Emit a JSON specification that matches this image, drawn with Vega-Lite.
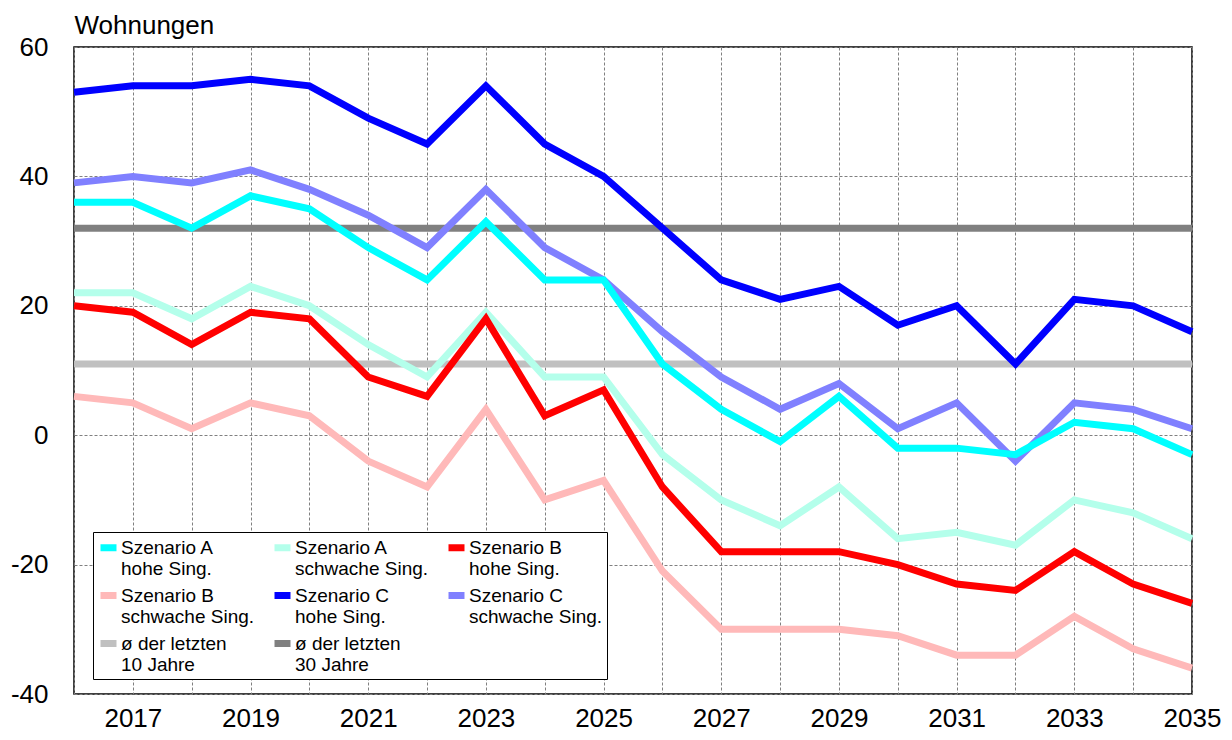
{
  "$schema": "https://vega.github.io/schema/vega-lite/v6.json",
  "autosize": "none",
  "width": 1118,
  "height": 647,
  "padding": {"left": 74, "top": 47, "right": 40, "bottom": 46},
  "background": "white",
  "config": {
    "font": "Liberation Sans",
    "view": {"stroke": "black", "strokeWidth": 1.5}
  },
  "datasets": {
    "series": [
      {"year": 2016, "s": "ø der letzten\n10 Jahre", "v": 11}, {"year": 2035, "s": "ø der letzten\n10 Jahre", "v": 11},
      {"year": 2016, "s": "ø der letzten\n30 Jahre", "v": 32}, {"year": 2035, "s": "ø der letzten\n30 Jahre", "v": 32},

      {"year": 2016, "s": "Szenario B\nschwache Sing.", "v": 6}, {"year": 2017, "s": "Szenario B\nschwache Sing.", "v": 5},
      {"year": 2018, "s": "Szenario B\nschwache Sing.", "v": 1}, {"year": 2019, "s": "Szenario B\nschwache Sing.", "v": 5},
      {"year": 2020, "s": "Szenario B\nschwache Sing.", "v": 3}, {"year": 2021, "s": "Szenario B\nschwache Sing.", "v": -4},
      {"year": 2022, "s": "Szenario B\nschwache Sing.", "v": -8}, {"year": 2023, "s": "Szenario B\nschwache Sing.", "v": 4},
      {"year": 2024, "s": "Szenario B\nschwache Sing.", "v": -10}, {"year": 2025, "s": "Szenario B\nschwache Sing.", "v": -7},
      {"year": 2026, "s": "Szenario B\nschwache Sing.", "v": -21}, {"year": 2027, "s": "Szenario B\nschwache Sing.", "v": -30},
      {"year": 2028, "s": "Szenario B\nschwache Sing.", "v": -30}, {"year": 2029, "s": "Szenario B\nschwache Sing.", "v": -30},
      {"year": 2030, "s": "Szenario B\nschwache Sing.", "v": -31}, {"year": 2031, "s": "Szenario B\nschwache Sing.", "v": -34},
      {"year": 2032, "s": "Szenario B\nschwache Sing.", "v": -34}, {"year": 2033, "s": "Szenario B\nschwache Sing.", "v": -28},
      {"year": 2034, "s": "Szenario B\nschwache Sing.", "v": -33}, {"year": 2035, "s": "Szenario B\nschwache Sing.", "v": -36},

      {"year": 2016, "s": "Szenario A\nschwache Sing.", "v": 22}, {"year": 2017, "s": "Szenario A\nschwache Sing.", "v": 22},
      {"year": 2018, "s": "Szenario A\nschwache Sing.", "v": 18}, {"year": 2019, "s": "Szenario A\nschwache Sing.", "v": 23},
      {"year": 2020, "s": "Szenario A\nschwache Sing.", "v": 20}, {"year": 2021, "s": "Szenario A\nschwache Sing.", "v": 14},
      {"year": 2022, "s": "Szenario A\nschwache Sing.", "v": 9}, {"year": 2023, "s": "Szenario A\nschwache Sing.", "v": 19},
      {"year": 2024, "s": "Szenario A\nschwache Sing.", "v": 9}, {"year": 2025, "s": "Szenario A\nschwache Sing.", "v": 9},
      {"year": 2026, "s": "Szenario A\nschwache Sing.", "v": -3}, {"year": 2027, "s": "Szenario A\nschwache Sing.", "v": -10},
      {"year": 2028, "s": "Szenario A\nschwache Sing.", "v": -14}, {"year": 2029, "s": "Szenario A\nschwache Sing.", "v": -8},
      {"year": 2030, "s": "Szenario A\nschwache Sing.", "v": -16}, {"year": 2031, "s": "Szenario A\nschwache Sing.", "v": -15},
      {"year": 2032, "s": "Szenario A\nschwache Sing.", "v": -17}, {"year": 2033, "s": "Szenario A\nschwache Sing.", "v": -10},
      {"year": 2034, "s": "Szenario A\nschwache Sing.", "v": -12}, {"year": 2035, "s": "Szenario A\nschwache Sing.", "v": -16},

      {"year": 2016, "s": "Szenario B\nhohe Sing.", "v": 20}, {"year": 2017, "s": "Szenario B\nhohe Sing.", "v": 19},
      {"year": 2018, "s": "Szenario B\nhohe Sing.", "v": 14}, {"year": 2019, "s": "Szenario B\nhohe Sing.", "v": 19},
      {"year": 2020, "s": "Szenario B\nhohe Sing.", "v": 18}, {"year": 2021, "s": "Szenario B\nhohe Sing.", "v": 9},
      {"year": 2022, "s": "Szenario B\nhohe Sing.", "v": 6}, {"year": 2023, "s": "Szenario B\nhohe Sing.", "v": 18},
      {"year": 2024, "s": "Szenario B\nhohe Sing.", "v": 3}, {"year": 2025, "s": "Szenario B\nhohe Sing.", "v": 7},
      {"year": 2026, "s": "Szenario B\nhohe Sing.", "v": -8}, {"year": 2027, "s": "Szenario B\nhohe Sing.", "v": -18},
      {"year": 2028, "s": "Szenario B\nhohe Sing.", "v": -18}, {"year": 2029, "s": "Szenario B\nhohe Sing.", "v": -18},
      {"year": 2030, "s": "Szenario B\nhohe Sing.", "v": -20}, {"year": 2031, "s": "Szenario B\nhohe Sing.", "v": -23},
      {"year": 2032, "s": "Szenario B\nhohe Sing.", "v": -24}, {"year": 2033, "s": "Szenario B\nhohe Sing.", "v": -18},
      {"year": 2034, "s": "Szenario B\nhohe Sing.", "v": -23}, {"year": 2035, "s": "Szenario B\nhohe Sing.", "v": -26},

      {"year": 2016, "s": "Szenario C\nschwache Sing.", "v": 39}, {"year": 2017, "s": "Szenario C\nschwache Sing.", "v": 40},
      {"year": 2018, "s": "Szenario C\nschwache Sing.", "v": 39}, {"year": 2019, "s": "Szenario C\nschwache Sing.", "v": 41},
      {"year": 2020, "s": "Szenario C\nschwache Sing.", "v": 38}, {"year": 2021, "s": "Szenario C\nschwache Sing.", "v": 34},
      {"year": 2022, "s": "Szenario C\nschwache Sing.", "v": 29}, {"year": 2023, "s": "Szenario C\nschwache Sing.", "v": 38},
      {"year": 2024, "s": "Szenario C\nschwache Sing.", "v": 29}, {"year": 2025, "s": "Szenario C\nschwache Sing.", "v": 24},
      {"year": 2026, "s": "Szenario C\nschwache Sing.", "v": 16}, {"year": 2027, "s": "Szenario C\nschwache Sing.", "v": 9},
      {"year": 2028, "s": "Szenario C\nschwache Sing.", "v": 4}, {"year": 2029, "s": "Szenario C\nschwache Sing.", "v": 8},
      {"year": 2030, "s": "Szenario C\nschwache Sing.", "v": 1}, {"year": 2031, "s": "Szenario C\nschwache Sing.", "v": 5},
      {"year": 2032, "s": "Szenario C\nschwache Sing.", "v": -4}, {"year": 2033, "s": "Szenario C\nschwache Sing.", "v": 5},
      {"year": 2034, "s": "Szenario C\nschwache Sing.", "v": 4}, {"year": 2035, "s": "Szenario C\nschwache Sing.", "v": 1},

      {"year": 2016, "s": "Szenario A\nhohe Sing.", "v": 36}, {"year": 2017, "s": "Szenario A\nhohe Sing.", "v": 36},
      {"year": 2018, "s": "Szenario A\nhohe Sing.", "v": 32}, {"year": 2019, "s": "Szenario A\nhohe Sing.", "v": 37},
      {"year": 2020, "s": "Szenario A\nhohe Sing.", "v": 35}, {"year": 2021, "s": "Szenario A\nhohe Sing.", "v": 29},
      {"year": 2022, "s": "Szenario A\nhohe Sing.", "v": 24}, {"year": 2023, "s": "Szenario A\nhohe Sing.", "v": 33},
      {"year": 2024, "s": "Szenario A\nhohe Sing.", "v": 24}, {"year": 2025, "s": "Szenario A\nhohe Sing.", "v": 24},
      {"year": 2026, "s": "Szenario A\nhohe Sing.", "v": 11}, {"year": 2027, "s": "Szenario A\nhohe Sing.", "v": 4},
      {"year": 2028, "s": "Szenario A\nhohe Sing.", "v": -1}, {"year": 2029, "s": "Szenario A\nhohe Sing.", "v": 6},
      {"year": 2030, "s": "Szenario A\nhohe Sing.", "v": -2}, {"year": 2031, "s": "Szenario A\nhohe Sing.", "v": -2},
      {"year": 2032, "s": "Szenario A\nhohe Sing.", "v": -3}, {"year": 2033, "s": "Szenario A\nhohe Sing.", "v": 2},
      {"year": 2034, "s": "Szenario A\nhohe Sing.", "v": 1}, {"year": 2035, "s": "Szenario A\nhohe Sing.", "v": -3},

      {"year": 2016, "s": "Szenario C\nhohe Sing.", "v": 53}, {"year": 2017, "s": "Szenario C\nhohe Sing.", "v": 54},
      {"year": 2018, "s": "Szenario C\nhohe Sing.", "v": 54}, {"year": 2019, "s": "Szenario C\nhohe Sing.", "v": 55},
      {"year": 2020, "s": "Szenario C\nhohe Sing.", "v": 54}, {"year": 2021, "s": "Szenario C\nhohe Sing.", "v": 49},
      {"year": 2022, "s": "Szenario C\nhohe Sing.", "v": 45}, {"year": 2023, "s": "Szenario C\nhohe Sing.", "v": 54},
      {"year": 2024, "s": "Szenario C\nhohe Sing.", "v": 45}, {"year": 2025, "s": "Szenario C\nhohe Sing.", "v": 40},
      {"year": 2026, "s": "Szenario C\nhohe Sing.", "v": 32}, {"year": 2027, "s": "Szenario C\nhohe Sing.", "v": 24},
      {"year": 2028, "s": "Szenario C\nhohe Sing.", "v": 21}, {"year": 2029, "s": "Szenario C\nhohe Sing.", "v": 23},
      {"year": 2030, "s": "Szenario C\nhohe Sing.", "v": 17}, {"year": 2031, "s": "Szenario C\nhohe Sing.", "v": 20},
      {"year": 2032, "s": "Szenario C\nhohe Sing.", "v": 11}, {"year": 2033, "s": "Szenario C\nhohe Sing.", "v": 21},
      {"year": 2034, "s": "Szenario C\nhohe Sing.", "v": 20}, {"year": 2035, "s": "Szenario C\nhohe Sing.", "v": 16}
    ]
  },
  "layer": [
    {
      "mark": {"type": "rule", "color": "black", "strokeWidth": 1.2},
      "encoding": {"y": {"datum": 0, "type": "quantitative"}}
    },
    {
      "data": {"name": "series"},
      "mark": {"type": "line", "strokeWidth": 7, "strokeJoin": "miter", "strokeCap": "butt"},
      "encoding": {
        "x": {
          "field": "year", "type": "quantitative",
          "scale": {"domain": [2016, 2035], "nice": false, "zero": false},
          "axis": {
            "title": null,
            "values": [2016, 2017, 2018, 2019, 2020, 2021, 2022, 2023, 2024, 2025, 2026, 2027, 2028, 2029, 2030, 2031, 2032, 2033, 2034, 2035],
            "labelExpr": "datum.value % 2 == 1 ? '' + datum.value : ''",
            "labelFontSize": 26,
            "labelColor": "black",
            "labelPadding": 11,
            "labelFlush": false,
            "labelOverlap": false,
            "ticks": false,
            "domain": false,
            "grid": true,
            "gridColor": "#808080",
            "gridDash": [3, 2],
            "gridWidth": 1,
            "gridOpacity": 1
          }
        },
        "y": {
          "field": "v", "type": "quantitative",
          "scale": {"domain": [-40, 60], "nice": false, "zero": false},
          "axis": {
            "title": "Wohnungen",
            "titleAngle": 0,
            "titleX": 0,
            "titleY": -14,
            "titleAlign": "left",
            "titleBaseline": "alphabetic",
            "titleFontSize": 26,
            "titleFontWeight": "normal",
            "titleColor": "black",
            "values": [-40, -20, 0, 20, 40, 60],
            "labelExpr": "'' + datum.value",
            "labelFontSize": 26,
            "labelColor": "black",
            "labelPadding": 26,
            "ticks": false,
            "domain": false,
            "grid": true,
            "gridColor": "#808080",
            "gridDash": [3, 2],
            "gridWidth": 1,
            "gridOpacity": 1
          }
        },
        "color": {
          "field": "s", "type": "nominal",
          "scale": {
            "domain": ["Szenario A\nhohe Sing.", "Szenario A\nschwache Sing.", "Szenario B\nhohe Sing.", "Szenario B\nschwache Sing.", "Szenario C\nhohe Sing.", "Szenario C\nschwache Sing.", "ø der letzten\n10 Jahre", "ø der letzten\n30 Jahre"],
            "range": ["#00FFFF", "#B4FFEB", "#FF0000", "#FFB9B9", "#0000FF", "#8080FF", "#C0C0C0", "#808080"]
          },
          "legend": {
            "title": null,
            "orient": "none",
            "legendX": 19,
            "legendY": 485,
            "columns": 3,
            "direction": "horizontal",
            "strokeColor": "black",
            "fillColor": "white",
            "padding": 4,
            "labelExpr": "split(datum.label, '\\n')",
            "labelFontSize": 19,
            "labelColor": "black",
            "labelLimit": 300,
            "labelOffset": 1,
            "symbolType": "M-1,0H1",
            "symbolSize": 256,
            "symbolStrokeWidth": 7,
            "symbolOpacity": 1,
            "columnPadding": 5,
            "rowPadding": 2
          }
        }
      }
    }
  ]
}
